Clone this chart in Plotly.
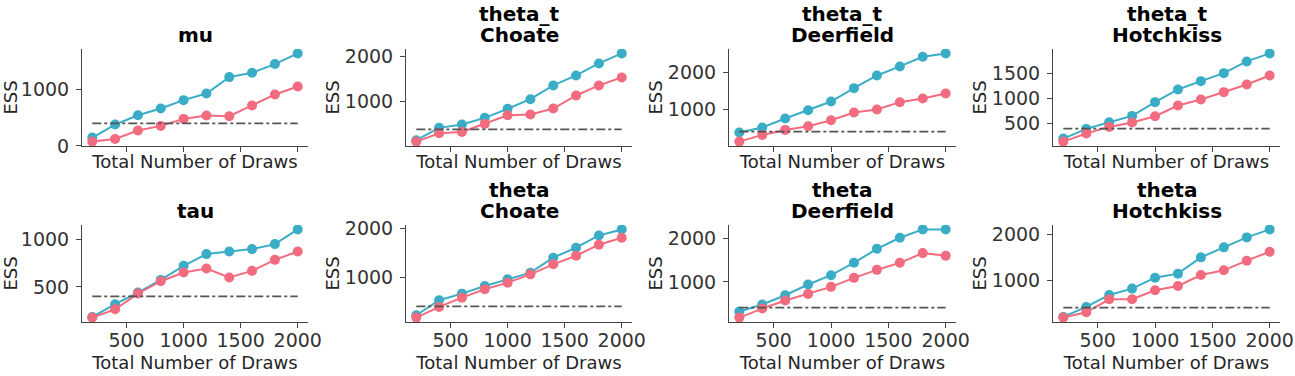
import plotly.graph_objects as go

draws = [200, 400, 600, 800, 1000, 1200, 1400, 1600, 1800, 2000]
min_ess = 400

title_top = ["", "theta_t", "theta_t", "theta_t", "", "theta", "theta", "theta"]
title_bottom = ["mu", "Choate", "Deerfield", "Hotchkiss", "tau", "Choate", "Deerfield", "Hotchkiss"]

mu_blue = [148, 379, 544, 663, 811, 929, 1219, 1296, 1450, 1639]
mu_red = [77, 124, 272, 355, 479, 538, 527, 716, 911, 1053]
tt_choate_blue = [161, 431, 504, 650, 847, 1058, 1358, 1577, 1839, 2058]
tt_choate_red = [131, 314, 343, 518, 708, 723, 854, 1139, 1358, 1533]
tt_deer_blue = [373, 509, 755, 982, 1218, 1582, 1927, 2173, 2436, 2527]
tt_deer_red = [127, 309, 445, 545, 709, 918, 1000, 1200, 1300, 1436]
tt_hotch_blue = [198, 393, 527, 654, 930, 1185, 1352, 1513, 1748, 1909]
tt_hotch_red = [138, 299, 433, 520, 648, 862, 983, 1131, 1285, 1466]
tau_blue = [181, 316, 440, 574, 723, 848, 876, 901, 954, 1110]
tau_red = [174, 262, 429, 560, 652, 695, 599, 670, 787, 876]
th_choate_blue = [218, 524, 660, 816, 952, 1088, 1395, 1599, 1850, 1973]
th_choate_red = [170, 388, 578, 748, 884, 1054, 1259, 1435, 1660, 1803]
th_deer_blue = [310, 473, 690, 938, 1155, 1442, 1767, 2023, 2217, 2217]
th_deer_red = [171, 380, 566, 721, 884, 1093, 1279, 1442, 1667, 1605]
th_hotch_blue = [197, 416, 679, 818, 1058, 1146, 1504, 1723, 1942, 2117]
th_hotch_red = [182, 299, 584, 584, 781, 876, 1117, 1219, 1431, 1628]

blue_series = [mu_blue, tt_choate_blue, tt_deer_blue, tt_hotch_blue,
               tau_blue, th_choate_blue, th_deer_blue, th_hotch_blue]
red_series = [mu_red, tt_choate_red, tt_deer_red, tt_hotch_red,
              tau_red, th_choate_red, th_deer_red, th_hotch_red]
ytick_step = [1000, 1000, 1000, 500, 500, 1000, 1000, 1000]
xtick_vals = [500, 1000, 1500, 2000]

BLUE = "#3aadc6"
RED = "#f36b7f"
FONT = "DejaVu Sans"
W, H = 1295, 376

col_px = [(82, 308), (406, 632), (729, 956), (1053, 1280)]
row_px = [(49, 146), (225, 322)]

fig = go.Figure()
for i in range(8):
    r, c = divmod(i, 4)
    ax = i + 1
    xn = "x" if ax == 1 else f"x{ax}"
    yn = "y" if ax == 1 else f"y{ax}"
    x0, x1 = col_px[c]
    t0, t1 = row_px[r]
    xdom = [x0 / W, x1 / W]
    ydom = [1 - t1 / H, 1 - t0 / H]

    fig.add_trace(go.Scatter(x=draws, y=blue_series[i], mode="lines+markers",
                             line=dict(color=BLUE, width=2), marker=dict(size=10, color=BLUE),
                             xaxis=xn, yaxis=yn, showlegend=False))
    fig.add_trace(go.Scatter(x=draws, y=red_series[i], mode="lines+markers",
                             line=dict(color=RED, width=2), marker=dict(size=10, color=RED),
                             xaxis=xn, yaxis=yn, showlegend=False))
    fig.add_trace(go.Scatter(x=[draws[0], draws[-1]], y=[min_ess, min_ess], mode="lines",
                             line=dict(color="#555555", width=1.8, dash="dashdot"),
                             xaxis=xn, yaxis=yn, showlegend=False))

    vals = blue_series[i] + red_series[i] + [min_ess]
    lo, hi = min(vals), max(vals)
    pad = 0.05 * (hi - lo)
    step = ytick_step[i]
    yt = [v for v in range(step, 3000, step) if lo - pad <= v <= hi + pad]
    if i == 0:
        yt = [0] + yt

    xspan = draws[-1] - draws[0]
    common = dict(showgrid=False, zeroline=False, showline=True, linecolor="#444444",
                  linewidth=1, ticks="outside", ticklen=5, tickwidth=1, tickcolor="#444444",
                  automargin=False, ticklabeloverflow="allow",
                  tickfont=dict(family=FONT, size=19, color="#333333"))
    fig.layout[("xaxis" if ax == 1 else f"xaxis{ax}")] = dict(
        domain=xdom, anchor=yn, range=[draws[0] - 0.05 * xspan, draws[-1] + 0.05 * xspan],
        tickvals=xtick_vals, showticklabels=(r == 1), ticklabelstandoff=-4,
        title=dict(text="Total Number of Draws", font=dict(family=FONT, size=18, color="#262626"),
                   standoff=(4 if r == 0 else 6)),
        **common)
    fig.layout[("yaxis" if ax == 1 else f"yaxis{ax}")] = dict(
        domain=ydom, anchor=xn, range=[lo - pad, hi + pad], tickvals=yt, ticklabelstandoff=3,
        title=dict(text="ESS", font=dict(family=FONT, size=18, color="#262626"), standoff=0),
        **common)
    xc = (xdom[0] + xdom[1]) / 2
    fig.add_annotation(text=f"<b>{title_bottom[i]}</b>", xref="paper", yref="paper",
                       x=xc, y=ydom[1], xanchor="center", yanchor="bottom",
                       yshift=0, showarrow=False,
                       font=dict(family=FONT, size=20, color="black"))
    if title_top[i]:
        fig.add_annotation(text=f"<b>{title_top[i]}</b>", xref="paper", yref="paper",
                           x=xc, y=ydom[1], xanchor="center", yanchor="bottom",
                           yshift=21, showarrow=False,
                           font=dict(family=FONT, size=20, color="black"))

fig.update_layout(width=W, height=H, margin=dict(l=0, r=0, t=0, b=0),
                  paper_bgcolor="white", plot_bgcolor="white")
fig.write_html("out.html", config={"displayModeBar": False},
               post_script="document.body.style.margin='0';document.body.style.overflow='hidden';")
